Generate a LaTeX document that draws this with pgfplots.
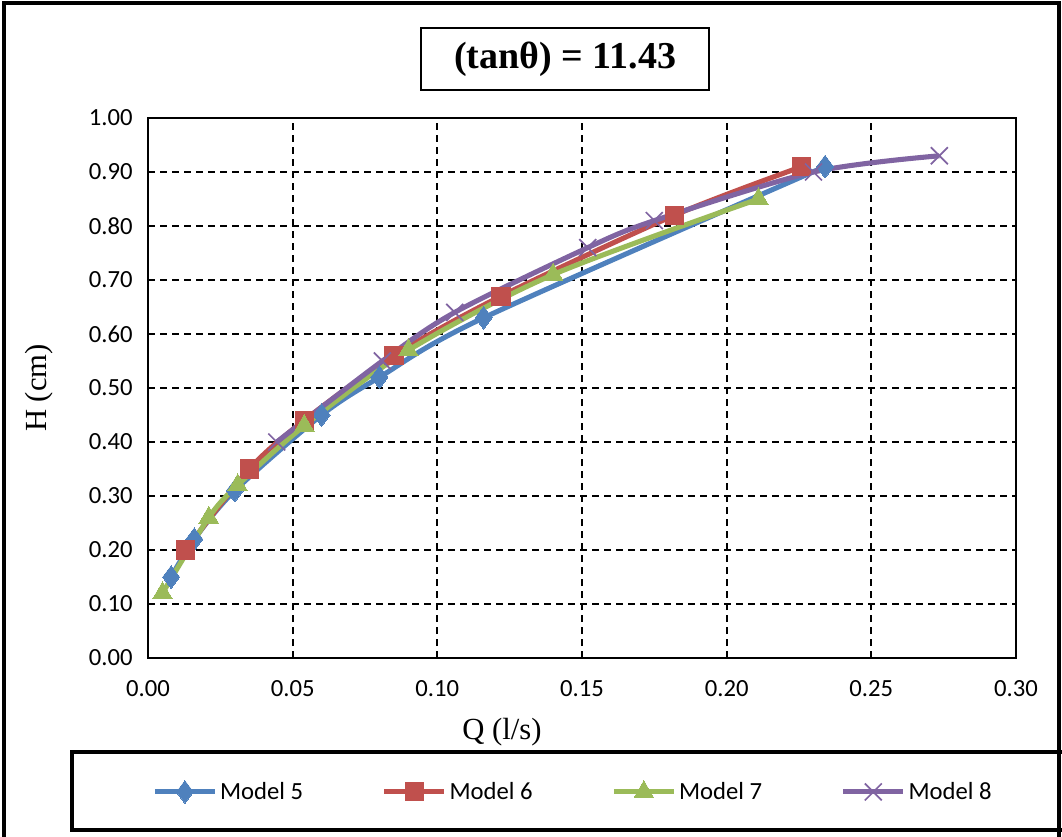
\documentclass[border=0pt]{standalone}
\usepackage{pgfplots}
\pgfplotsset{compat=1.18}
\usepackage{fontspec}
\setmainfont{Liberation Serif}
\newfontfamily\calib{Carlito}
\definecolor{c5}{HTML}{4F81BD}
\definecolor{c6}{HTML}{C0504D}
\definecolor{c7}{HTML}{9BBB59}
\definecolor{c8}{HTML}{8064A2}
\begin{document}
\begin{tikzpicture}
\path[use as bounding box] (0pt,0pt) rectangle (796.5pt,627pt);
% outer frame
\draw[line width=3pt] (3pt,-10pt) -- (3pt,624.5pt) -- (794pt,624.5pt) -- (794pt,-10pt);
% title box
\draw[line width=1pt] (315.75pt,559.5pt) rectangle (531.75pt,606pt);
\node[font=\fontsize{28.5}{32}\selectfont\bfseries] at (423.75pt,582.75pt) {(tanθ) = 11.43};
% legend box
\draw[line width=2.5pt] (54pt,4.5pt) rectangle (805pt,63pt);
% axis labels
\node[rotate=90,font=\fontsize{23}{27}\selectfont] at (29pt,336pt) {H (cm)};
\node[font=\fontsize{23}{27}\selectfont] at (376.5pt,78pt) {Q (l/s)};
\begin{axis}[
  at={(111pt,133.5pt)}, anchor=south west,
  scale only axis, width=651pt, height=405pt,
  xmin=0, xmax=0.30, ymin=0, ymax=1.00,
  xtick={0,0.05,...,0.3001}, ytick={0,0.1,...,1.001},
  grid=major,
  major grid style={black, line width=1.5pt, dash pattern=on 5.5pt off 3.5pt},
  axis line style={line width=2.2pt, black},
  major tick length=0pt,
  tick label style={font=\fontsize{18.5}{22}\selectfont\calib},
  /pgf/number format/assume math mode=true,
  xticklabel={\pgfmathprintnumber[fixed,fixed zerofill,precision=2]{\tick}},
  yticklabel={\pgfmathprintnumber[fixed,fixed zerofill,precision=2]{\tick}},
  xticklabel style={yshift=-13pt},
  yticklabel style={xshift=-8pt},
  legend columns=4,
  legend style={draw=none, fill=none, at={(axis description cs:0.49,-0.248)}, anchor=center,
    font=\fontsize{18.5}{22}\selectfont\calib,
    /tikz/every even column/.append style={column sep=57pt}},
  legend cell align=left,
  legend image code/.code={\draw[mark repeat=2,mark phase=2] plot coordinates {(0pt,0pt)(22.5pt,0pt)(45pt,0pt)};},
  every axis plot/.append style={line width=3.8pt, smooth, tension=0.5},
]
\addplot[c5, mark=diamond*, mark size=8.5pt, mark options={solid, line width=0pt}] coordinates {
(0.008,0.15)(0.016,0.22)(0.030,0.31)(0.060,0.45)(0.080,0.52)(0.116,0.63)(0.234,0.91)};
\addlegendentry{Model 5}
\addplot[c6, mark=square*, mark size=6.8pt, mark options={solid, line width=0pt}] coordinates {
(0.013,0.20)(0.035,0.35)(0.054,0.44)(0.085,0.56)(0.122,0.67)(0.182,0.82)(0.226,0.91)};
\addlegendentry{Model 6}
\addplot[c7, mark=triangle*, mark size=8.5pt, mark options={solid, line width=0pt}] coordinates {
(0.005,0.12)(0.021,0.26)(0.031,0.32)(0.054,0.43)(0.090,0.57)(0.140,0.71)(0.211,0.85)};
\addlegendentry{Model 7}
\addplot[c8, mark=x, mark size=9pt, mark options={solid, line width=1.3pt}] coordinates {
(0.0445,0.40)(0.081,0.55)(0.106,0.64)(0.152,0.76)(0.175,0.81)(0.230,0.90)(0.2735,0.93)};
\addlegendentry{Model 8}
\end{axis}
\end{tikzpicture}
\end{document}
